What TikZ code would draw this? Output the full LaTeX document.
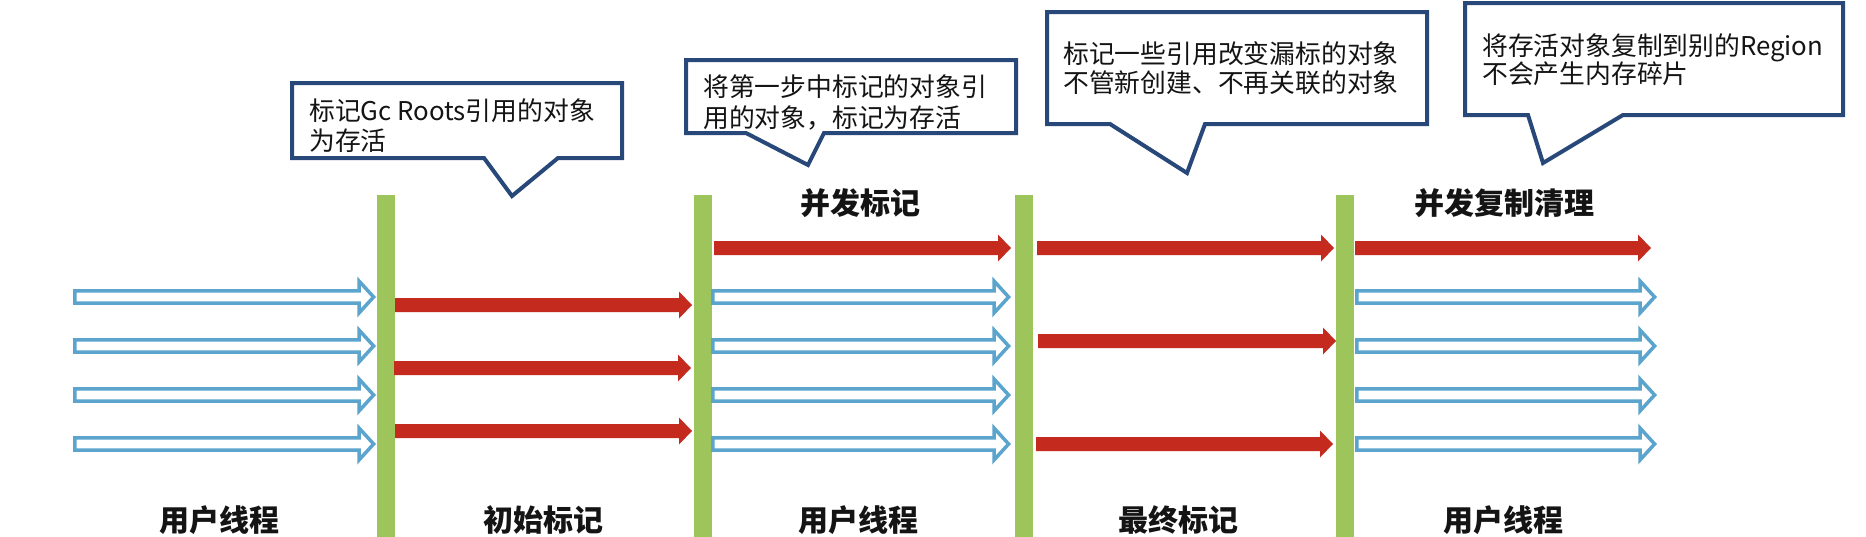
\documentclass[tikz,border=0pt]{standalone}
\usepackage{fontspec}
\newfontfamily\cjk{Noto Sans CJK SC}
\definecolor{barc}{RGB}{158,197,92}
\definecolor{redc}{RGB}{196,42,30}
\definecolor{bluec}{RGB}{91,164,205}
\definecolor{calc}{RGB}{40,72,122}
\definecolor{txtc}{RGB}{20,20,20}
\newcommand\RedArr[3]{%
  \fill[redc] (#1,#3-7) -- (#2-13,#3-7) -- (#2-13,#3-13.5) -- (#2,#3)
    -- (#2-13,#3+13.5) -- (#2-13,#3+7) -- (#1,#3+7) -- cycle;}
\newcommand\BlueArr[3]{%
  \draw[bluec, line width=3.5, fill=white, line join=miter]
    (#1+1.75,#3-6.2) -- (#2-17,#3-6.2) -- (#2-17,#3-16) -- (#2-2.4,#3)
    -- (#2-17,#3+16) -- (#2-17,#3+6.2) -- (#1+1.75,#3+6.2) -- cycle;}
\begin{document}
\begin{tikzpicture}[x=1pt,y=-1pt,
  bar/.style={fill=barc, draw=none, inner sep=0, minimum width=18, anchor=north west},
  callout/.style={draw=calc, line width=4, fill=white, line join=miter},
  ctext/.style={anchor=base west, inner sep=0, text=txtc, font=\cjk\fontsize{25.8}{30}\selectfont},
  ttl/.style={anchor=base, inner sep=0, text=txtc, font=\cjk\bfseries\fontsize{30}{34}\selectfont}]
\useasboundingbox[fill=white] (0,0) rectangle (1866,536);

% callouts
\draw[callout] (292,83) -- (622,83) -- (622,158) -- (558,158) -- (512,196) -- (484,158) -- (292,158) -- cycle;
\node[ctext] (c1a) at (309,120) {标记Gc Roots引用的对象};
\node[ctext] (c1b) at (309,150) {为存活};

\draw[callout] (686,60) -- (1016,60) -- (1016,133) -- (824,133) -- (808,165) -- (746,133) -- (686,133) -- cycle;
\node[ctext] (c2a) at (703,96) {将第一步中标记的对象引};
\node[ctext] (c2b) at (703,127) {用的对象，标记为存活};

\draw[callout] (1047,12) -- (1427,12) -- (1427,124) -- (1205,124) -- (1187,173) -- (1110,124) -- (1047,124) -- cycle;
\node[ctext] (c3a) at (1063,63) {标记一些引用改变漏标的对象};
\node[ctext] (c3b) at (1063,92) {不管新创建、不再关联的对象};

\draw[callout] (1465,3) -- (1843,3) -- (1843,115) -- (1623,115) -- (1543,163) -- (1528,115) -- (1465,115) -- cycle;
\node[ctext] (c4a) at (1482,55) {将存活对象复制到别的Region};
\node[ctext] (c4b) at (1482,83) {不会产生内存碎片};

% bars
\node[bar, minimum height=345] (b1) at (377,195) {};
\node[bar, minimum height=345] (b2) at (694,195) {};
\node[bar, minimum height=345] (b3) at (1015,195) {};
\node[bar, minimum height=345] (b4) at (1336,195) {};

% phase 1: user threads
\BlueArr{73}{376}{297}
\BlueArr{73}{376}{346}
\BlueArr{73}{376}{395}
\BlueArr{73}{376}{444}

% phase 2: initial mark
\RedArr{395}{692}{305}
\RedArr{394}{691}{368}
\RedArr{395}{692}{431}

% phase 3: concurrent mark
\RedArr{714}{1011}{248}
\BlueArr{711}{1011}{297}
\BlueArr{711}{1011}{346}
\BlueArr{711}{1011}{395}
\BlueArr{711}{1011}{444}

% phase 4: final mark
\RedArr{1037}{1334}{248}
\RedArr{1038}{1336}{341}
\RedArr{1036}{1333}{444}

% phase 5: concurrent copy/clean
\RedArr{1355}{1651}{248}
\BlueArr{1355}{1657}{297}
\BlueArr{1355}{1657}{346}
\BlueArr{1355}{1657}{395}
\BlueArr{1355}{1657}{444}

% titles
\node[ttl] (t1) at (860,214) {并发标记};
\node[ttl] (t2) at (1504,214) {并发复制清理};
\node[ttl] (l1) at (219,531) {用户线程};
\node[ttl] (l2) at (543,531) {初始标记};
\node[ttl] (l3) at (858,531) {用户线程};
\node[ttl] (l4) at (1178,531) {最终标记};
\node[ttl] (l5) at (1503,531) {用户线程};
\end{tikzpicture}
\end{document}
